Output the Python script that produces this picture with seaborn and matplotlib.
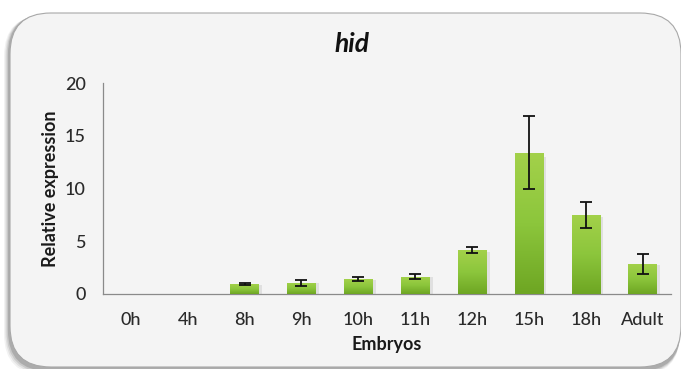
import numpy as np
import pandas as pd
import matplotlib
matplotlib.use("Agg")
import matplotlib.pyplot as plt
import seaborn as sns
from matplotlib.patches import FancyBboxPatch
from matplotlib.colors import LinearSegmentedColormap

# Relative hid expression across embryonic stages and adults
stages = ["0h", "4h", "8h", "9h", "10h", "11h", "12h", "15h", "18h", "Adult"]
expression = [0.02, 0.04, 0.92, 1.05, 1.40, 1.65, 4.15, 13.40, 7.50, 2.85]
errors = [0.0, 0.0, 0.08, 0.28, 0.17, 0.20, 0.30, 3.45, 1.25, 0.95]
y_ticks = [0, 5, 10, 15, 20]

df = pd.DataFrame({"stage": stages, "expression": expression, "err": errors})

sns.set_theme(style="white")
plt.rcParams["font.family"] = ["Lato", "DejaVu Sans"]

W, H = 681, 369
fig = plt.figure(figsize=(W / 100, H / 100), dpi=100)
fig.patch.set_facecolor("white")

# rounded panel with a soft drop shadow
def px_box(x0, y0, x1, y1, **kw):
    return FancyBboxPatch((x0 / W, 1 - y1 / H), (x1 - x0) / W, (y1 - y0) / H,
                          boxstyle="round,pad=0,rounding_size=0.06",
                          transform=fig.transFigure, mutation_aspect=W / H, **kw)

for i, a in enumerate([0.05, 0.07, 0.10, 0.14]):
    off = 6 - i * 1.3
    fig.patches.append(px_box(10 - off, 13 + off * 0.4, 681 - off * 0.2, 369 + off,
                              facecolor="black", edgecolor="none", alpha=a, zorder=0))
fig.patches.append(px_box(10, 13, 681, 367, facecolor="#f4f4f4",
                          edgecolor="#a8a8a8", linewidth=0.8, zorder=1))

ax = fig.add_axes([102.5 / W, 1 - 294 / H, (671 - 102.5) / W, (294 - 83) / H])
ax.set_facecolor("none")
ax.set_zorder(2)

sns.barplot(data=df, x="stage", y="expression", color="#8cc43a", width=0.5,
            errorbar=None, ax=ax, zorder=3, edgecolor="none")

# vertical green gradient inside each bar, plus a faint shadow on the right
grad = LinearSegmentedColormap.from_list("g", ["#6ea623", "#8cc63c", "#a3d14a"])
for p in ax.patches:
    x0, y0 = p.get_x(), p.get_y()
    w, h = p.get_width(), p.get_height()
    if h <= 0:
        continue
    ax.add_patch(plt.Rectangle((x0 + w, y0), 0.06, h * 0.97, facecolor="#000000",
                               alpha=0.08, edgecolor="none", zorder=2))
    img = ax.imshow(np.linspace(0, 1, 100).reshape(-1, 1), cmap=grad, aspect="auto",
                    origin="lower", extent=[x0, x0 + w, y0, y0 + h], zorder=3.5)
    img.set_clip_path(p)

xs = np.arange(len(stages))
mask = np.array(errors) > 0
ax.errorbar(xs[mask], np.array(expression)[mask], yerr=np.array(errors)[mask],
            fmt="none", ecolor="#111111", elinewidth=1.3, capsize=4.5,
            capthick=1.3, zorder=5)

ax.set_xlim(-0.5, len(stages) - 0.5)
ax.set_ylim(0, 20)
ax.set_yticks(y_ticks)
ax.set_yticklabels([str(t) for t in y_ticks])

for s in ["top", "right"]:
    ax.spines[s].set_visible(False)
for s in ["left", "bottom"]:
    ax.spines[s].set_color("#8a8a8a")
    ax.spines[s].set_linewidth(0.9)

ax.set_xticks(xs)
ax.set_xticklabels(stages)
ax.set_xticks(np.arange(-0.5, len(stages), 1.0), minor=True)
ax.tick_params(axis="x", which="major", length=0, pad=13, labelsize=13, labelcolor="#2a2a2a")
ax.tick_params(axis="x", which="minor", length=5, width=0.9, color="#8a8a8a", direction="out")
ax.tick_params(axis="y", which="major", length=6, width=0.9, color="#8a8a8a",
               direction="out", pad=6, labelsize=13, labelcolor="#2a2a2a")
for lab in ax.get_xticklabels() + ax.get_yticklabels():
    lab.set_fontweight("medium")

ax.set_xlabel("Embryos", fontsize=13, fontweight="bold", color="#1a1a1a", labelpad=6)
ax.set_ylabel("Relative expression", fontsize=13, fontweight="bold", color="#1a1a1a", labelpad=4)

fig.text(352 / W, 1 - 44 / H, "hid", fontsize=19, fontweight="bold", fontstyle="italic",
         ha="center", va="center", color="#111111")

fig.savefig("out.png", dpi=100, facecolor="white")
